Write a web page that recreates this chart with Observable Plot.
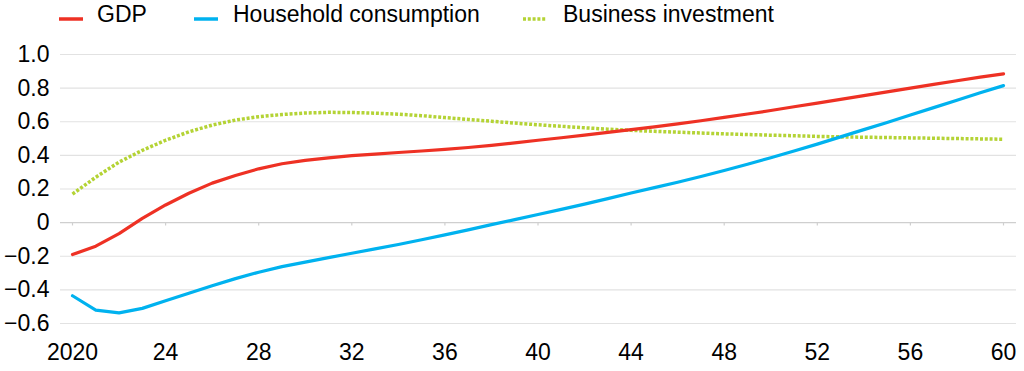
<!DOCTYPE html>
<html>
<head>
<meta charset="utf-8">
<script src="https://cdn.jsdelivr.net/npm/d3@7"></script>
<script src="https://cdn.jsdelivr.net/npm/@observablehq/plot@0.6"></script>
<style>
  html, body { margin: 0; padding: 0; background: #fff; }
  body { width: 1024px; height: 371px; overflow: hidden; font-family: "Liberation Sans", Arial, sans-serif; color: #000; }
  #legend { position: relative; height: 34px; width: 1024px; }
  .sw { position: absolute; top: 10px; width: 24px; height: 10px; }
  .lt { position: absolute; top: 3px; font-size: 23px; line-height: 23px; white-space: nowrap; color: #000; }
</style>
</head>
<body>
<div id="legend"></div>
<div id="chart"></div>
<script>
const years = d3.range(2020, 2061);
const gdp = [-0.19,-0.14,-0.065,0.025,0.105,0.175,0.235,0.28,0.32,0.35,
  0.37,0.385,0.398,0.408,0.417,0.426,0.436,0.447,0.46,0.474,
  0.49,0.505,0.52,0.537,0.553,0.569,0.587,0.606,0.626,0.646,
  0.667,0.689,0.711,0.733,0.755,0.778,0.80,0.822,0.844,0.865,0.885];
const household = [-0.435,-0.52,-0.537,-0.51,-0.465,-0.42,-0.375,-0.333,-0.295,-0.262,
  -0.235,-0.208,-0.182,-0.156,-0.13,-0.102,-0.073,-0.043,-0.012,0.018,
  0.048,0.079,0.11,0.143,0.176,0.208,0.24,0.274,0.31,0.347,
  0.386,0.426,0.467,0.51,0.553,0.596,0.64,0.684,0.728,0.772,0.815];
const business = [0.17,0.27,0.36,0.43,0.49,0.54,0.58,0.61,0.63,0.643,
  0.652,0.656,0.655,0.651,0.645,0.636,0.625,0.614,0.603,0.592,
  0.582,0.573,0.564,0.556,0.549,0.543,0.538,0.533,0.528,0.524,
  0.52,0.517,0.513,0.51,0.508,0.506,0.504,0.502,0.5,0.498,0.496];
const seriesNames = ["GDP", "Household consumption", "Business investment"];
const seriesColors = ["#ee3124", "#00b2ef", "#b4d335"];
const xTicks = [2020,2024,2028,2032,2036,2040,2044,2048,2052,2056,2060];
const xTickLabels = ["2020","24","28","32","36","40","44","48","52","56","60"];
const yTicks = [-0.6,-0.4,-0.2,0,0.2,0.4,0.6,0.8,1.0];

const seriesValues = [gdp, household, business];
const rows = [];
seriesNames.forEach((name, i) => {
  years.forEach((yr, j) => rows.push({series: name, year: yr, value: seriesValues[i][j]}));
});

// Legend
const legendPos = [{sw: 59, tx: 97}, {sw: 194, tx: 233}, {sw: 523, tx: 563}];
const legend = document.getElementById("legend");
seriesNames.forEach((name, i) => {
  const dotted = i === 2;
  const s = document.createElement("div");
  s.className = "sw";
  s.style.left = legendPos[i].sw + "px";
  s.innerHTML = `<svg width="24" height="10"><line x1="0" x2="24" y1="5" y2="5" stroke="${seriesColors[i]}" stroke-width="3.5" ${dotted ? 'stroke-dasharray="3,1.8"' : ''}/></svg>`;
  legend.appendChild(s);
  const t = document.createElement("div");
  t.className = "lt";
  t.style.left = legendPos[i].tx + "px";
  t.textContent = name;
  legend.appendChild(t);
});

const fmtY = d => d === 0 ? "0" : d.toFixed(1).replace("-", "\u2212");
const fmtX = d => xTickLabels[xTicks.indexOf(d)];

const chart = Plot.plot({
  width: 1024,
  height: 337,
  marginLeft: 72,
  marginRight: 21,
  marginTop: 20,
  marginBottom: 48,
  style: {fontFamily: "'Liberation Sans', Arial, sans-serif", fontSize: "23px", color: "#000", background: "#fff"},
  x: {domain: [2020, 2060]},
  y: {domain: [-0.6, 1.0]},
  color: {domain: seriesNames, range: seriesColors},
  marks: [
    Plot.ruleY(yTicks.filter(d => d !== 0), {y: d => d, stroke: "#e2e2e2", strokeWidth: 1.2, insetLeft: -12, insetRight: -13}),
    Plot.ruleY([0], {y: d => d, stroke: "#cfcfcf", strokeWidth: 1.4, insetLeft: -12, insetRight: -13}),
    Plot.ruleX(xTicks, {x: d => d, y1: 0, y2: -0.02, stroke: "#cfcfcf", strokeWidth: 1.2}),
    Plot.axisY({ticks: yTicks, tickSize: 0, tickPadding: 23, tickFormat: fmtY, label: null, fontSize: 23, fill: "#000"}),
    Plot.axisX({ticks: xTicks, tickSize: 0, tickPadding: 20, tickFormat: fmtX, label: null, fontSize: 23, fill: "#000"}),
    Plot.line(rows.filter(d => d.series === "Business investment"), {x: "year", y: "value", stroke: "series", strokeWidth: 3.5, strokeDasharray: "3,1.8", strokeLinecap: "butt"}),
    Plot.line(rows.filter(d => d.series === "GDP"), {x: "year", y: "value", stroke: "series", strokeWidth: 3.2}),
    Plot.line(rows.filter(d => d.series === "Household consumption"), {x: "year", y: "value", stroke: "series", strokeWidth: 3.2})
  ]
});
document.getElementById("chart").appendChild(chart);
</script>
</body>
</html>
